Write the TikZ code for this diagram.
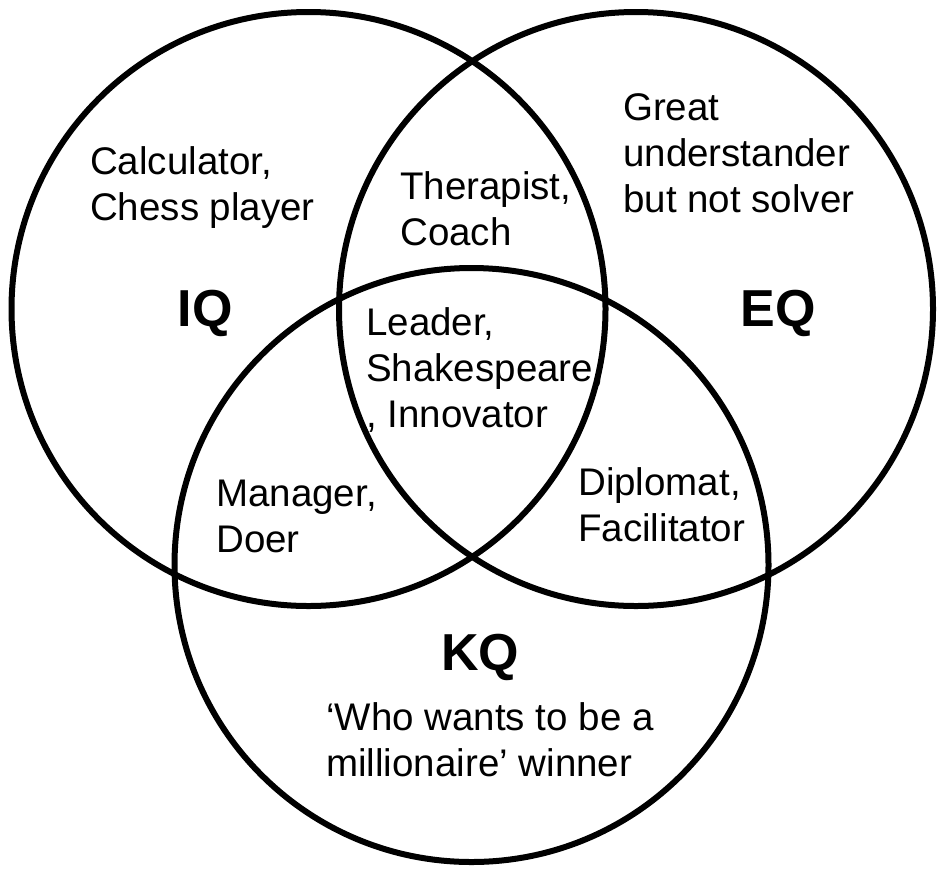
\documentclass[tikz,border=0pt]{standalone}
\usepackage{fontspec}
\setmainfont{Liberation Sans}
\begin{document}
\begin{tikzpicture}[x=1pt,y=-1pt,
  ring/.style={draw=black,line width=6pt},
  lbl/.style={font=\fontsize{38.5}{46}\selectfont,align=left,anchor=west,inner sep=0pt},
  big/.style={font=\fontsize{52}{60}\selectfont\bfseries,inner sep=0pt}]
\useasboundingbox[fill=white] (0,0) rectangle (952,876);
\draw[ring] (308.5,309) circle (297);
\draw[ring] (636,309) circle (297);
\draw[ring] (471.5,565) circle (297);
\node[big] (iq) at (205,313) {IQ};
\node[big] (eq) at (778,313) {EQ};
\node[big] (kq) at (480,657) {KQ};
\node[lbl] (calc) at (90,188) {Calculator,\\Chess player};
\node[lbl] (ther) at (400,209) {Therapist,\\Coach};
\node[lbl] (great) at (623,153) {Great\\understander\\but not solver};
\node[lbl] (lead) at (366,370) {Leader,\\Shakespeare,\\, Innovator};
\node[lbl] (man) at (216,516) {Manager,\\Doer};
\node[lbl] (dip) at (578,505) {Diplomat,\\Facilitator};
\node[lbl] (who) at (326,740) {‘Who wants to be a\\millionaire’ winner};
\end{tikzpicture}
\end{document}
